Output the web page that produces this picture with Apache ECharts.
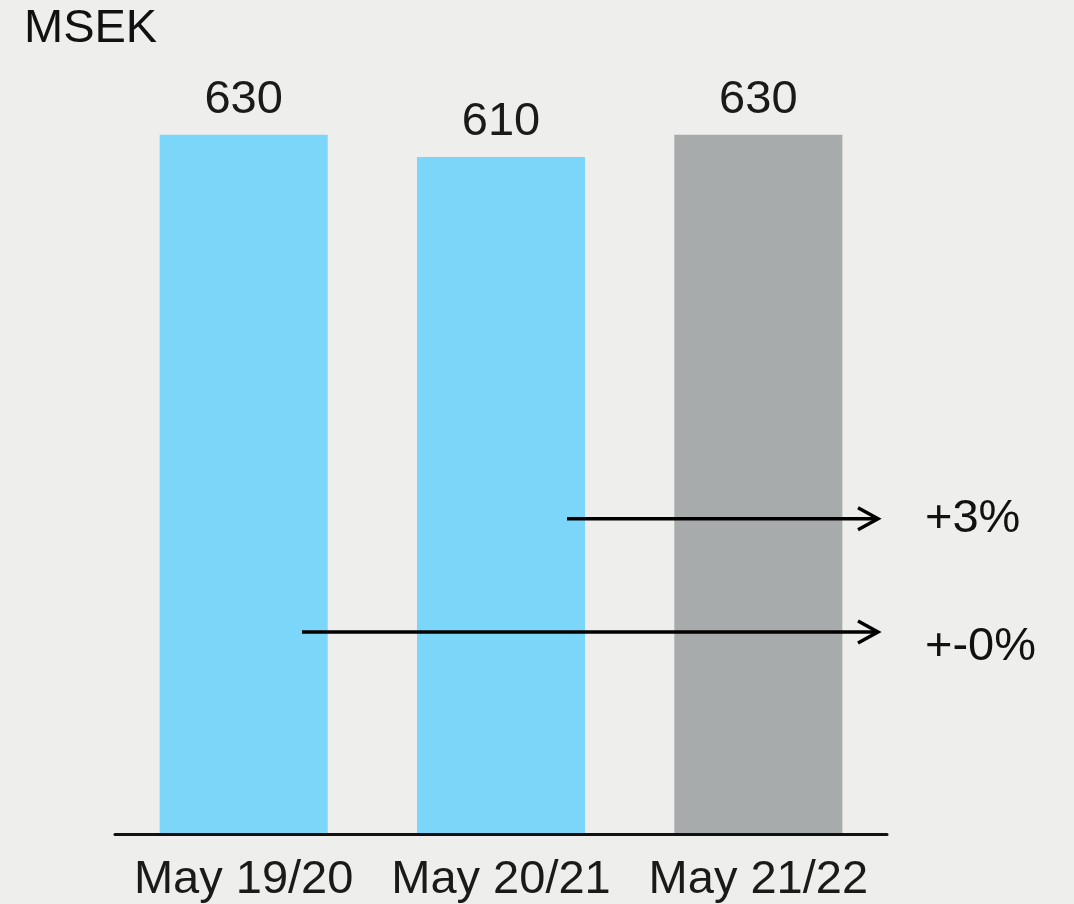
<!DOCTYPE html>
<html>
<head>
<meta charset="utf-8">
<script src="https://cdn.jsdelivr.net/npm/echarts@6/dist/echarts.min.js"></script>
<style>
  html, body { margin: 0; padding: 0; background: #eeeeec; }
  #chart { width: 1074px; height: 904px; }
</style>
</head>
<body>
<div id="chart"></div>
<script>
// Fiscal periods and values (MSEK)
const categories = ['May 19/20', 'May 20/21', 'May 21/22'];
const values = [630, 610, 630];
const barColors = ['#7bd6fa', '#7bd6fa', '#a8abac'];

// Growth annotations: text and the value level at which each arrow sits
const growthLabels = ['+3%', '+-0%'];
const arrowLevels = [284, 182];

const FONT = '"Liberation Sans", Arial, sans-serif';
const TEXT = '#1a1a1a';
const FS = 47;

const chart = echarts.init(document.getElementById('chart'));

chart.setOption({
  backgroundColor: '#eeeeec',
  animation: false,
  grid: { left: 115, right: 187, top: 57, bottom: 69 },
  xAxis: {
    type: 'category',
    data: categories,
    z: 5,
    axisLine: { lineStyle: { color: '#111', width: 3 } },
    axisTick: { show: false },
    axisLabel: {
      color: TEXT, fontSize: FS, fontFamily: FONT, margin: 23,
      interval: 0, hideOverlap: false
    }
  },
  yAxis: {
    type: 'value',
    min: 0,
    max: 700,
    show: false,
    splitLine: { show: false }
  },
  series: [{
    type: 'bar',
    data: values.map((v, i) => ({ value: v, itemStyle: { color: barColors[i] } })),
    barWidth: '65.3%',
    label: {
      show: true,
      position: 'top',
      distance: 11,
      color: TEXT,
      fontSize: FS,
      fontFamily: FONT
    }
  }]
});

// Arrows from the earlier periods toward the growth figures on the right
const arrowStarts = [567, 302];
const arrowTip = 878;
const graphics = [{
  type: 'text',
  left: 24,
  top: 6,
  z: 100,
  style: { text: 'MSEK', fill: '#111', font: FS + 'px ' + FONT }
}];
arrowLevels.forEach((lvl, i) => {
  const y = chart.convertToPixel({ yAxisIndex: 0 }, lvl);
  graphics.push({
    type: 'line',
    z: 100,
    shape: { x1: arrowStarts[i], y1: y, x2: arrowTip - 1, y2: y },
    style: { stroke: '#000', lineWidth: 3.5 }
  });
  graphics.push({
    type: 'polyline',
    z: 100,
    shape: { points: [[arrowTip - 20, y - 11], [arrowTip, y], [arrowTip - 20, y + 11]] },
    style: { stroke: '#000', lineWidth: 3.5, fill: null }
  });
  graphics.push({
    type: 'text',
    z: 100,
    x: 925,
    y: y + (i === 0 ? 0 : 15),
    style: {
      text: growthLabels[i],
      fill: '#111',
      font: FS + 'px ' + FONT,
      textVerticalAlign: 'middle'
    }
  });
});
chart.setOption({ graphic: graphics });
</script>
</body>
</html>
